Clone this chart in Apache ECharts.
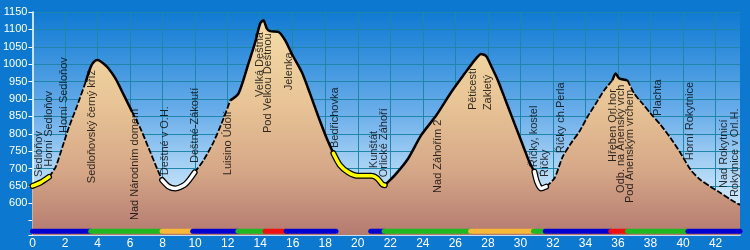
<!DOCTYPE html>
<html>
<head>
<meta charset="utf-8">
<script src="https://cdn.jsdelivr.net/npm/echarts@6/dist/echarts.min.js"></script>
<style>
html,body{margin:0;padding:0;background:#0c78d0;}
#c{width:750px;height:250px;}
</style>
</head>
<body>
<div id="c"></div>
<script>
// ---- data ----
const profileKm = [0,0.5,1.02,1.43,1.84,2.25,2.76,3.27,3.58,3.8,4.0,4.2,4.6,5.1,5.62,6.13,6.64,7.15,7.66,7.97,8.38,8.79,9.4,9.97,10.52,11.14,11.75,12.16,12.67,13.28,13.7,14.0,14.2,14.41,14.61,15.12,15.53,15.94,16.55,17.06,17.58,18.09,18.5,18.9,19.42,20.03,20.85,21.2,21.5,21.66,22.28,23.1,23.9,24.83,25.75,26.57,27.18,27.59,27.9,28.2,28.61,29.12,29.63,30.15,30.55,30.86,31.02,31.27,31.58,32.09,32.6,33.1,33.62,34.13,34.64,35.15,35.66,35.86,36.07,36.58,36.99,37.5,38.01,38.63,39.24,39.85,40.47,41.08,41.69,42.3,42.92,43.5];
const profileElev = [650,660,676,705,762,820,882,949,992,1008,1012,1008,992,959,911,863,815,758,700,667,648,643,655,689,724,777,844,896,916,1002,1064,1117,1126,1102,1095,1093,1069,1030,978,916,849,787,744,710,689,679,679,672,655,652,681,729,796,853,920,973,1011,1029,1023,995,954,892,830,767,719,691,662,643,648,672,734,772,806,849,887,925,954,973,959,954,916,887,858,825,787,744,696,667,648,630,611,595];

const placeNames = ["Sedloňov","Horní Sedloňov","Horní Sedloňov","Sedloňovský černý kříž","Nad Národním domem","Deštné v O.H.","Deštné-Zákoutí","Luisino Údolí","Velká Deštná","Pod Velkou Deštnou","Jelenka","Bedřichovka","Kunštát","Orlické Záhoří","Nad Záhořím 2","Pěticestí","Zakletý","Říčky, kostel","Říčky","Říčky ch.Perla","Hřeben Orl.hor","Odb. na Anenský vrch","Pod Anenským vrchem","Plachta","Horní Rokytnice","Nad Rokytnicí","Rokytnice v Orl.H."];
const placeKm = [0.41,1.02,1.94,3.68,6.32,8.14,9.98,12.02,13.98,14.47,15.76,18.58,20.97,21.64,24.95,27.1,28.02,30.84,31.51,32.5,35.68,36.17,36.73,38.44,40.4,42.49,43.16];
const placeElev = [676,705,802,658,552,681,716,681,906,802,925,759,701,675,630,868,868,704,676,744,719,630,601,851,724,644,618];

const surfStart = [0,3.58,7.97,9.85,12.63,14.3,15.6,20.8,21.62,26.94,30.8,31.53,35.56,36.58,40.3];
const surfEnd   = [3.58,7.97,9.85,12.63,14.3,15.6,18.66,21.62,26.94,30.8,31.53,35.56,36.58,40.3,43.5];
const surfColor = ["#0000d0","#20b820","#f8b838","#0000d0","#20b820","#f01010","#0000d0","#0000d0","#20b820","#f8b838","#20b820","#0000d0","#f01010","#20b820","#0000d0"];

const yellowRanges = [[0,1.02],[18.5,21.66]];
const whiteRanges  = [[7.97,9.97],[30.86,31.58]];
const solidRanges  = [[3.27,6.13],[12.16,18.5],[21.66,30.86],[35.66,36.58]];
const dashedRanges = [[1.02,3.27],[6.13,7.97],[9.97,12.16],[31.58,35.66],[36.58,43.5]];

// ---- build ----
const FONT = "Liberation Sans, Arial, sans-serif";
const SMOOTH = 0.25;
const profile = profileKm.map((k,i)=>[k,profileElev[i]]);
function slice(a,b){ return profile.filter(p=>p[0]>=a-1e-9 && p[0]<=b+1e-9); }

const series = [];
series.push({
  type:'line', data: profile, symbol:'none', z:2, smooth:SMOOTH,
  lineStyle:{width:0},
  areaStyle:{ origin:'start', opacity:1,
    color: new echarts.graphic.LinearGradient(0,15,0,235,[
      {offset:0,color:'#f6dea8'},
      {offset:0.4,color:'#e8c496'},
      {offset:0.7,color:'#d6a888'},
      {offset:1,color:'#b47a70'}],true)
  }
});
solidRanges.forEach(r=>series.push({type:'line',data:slice(r[0],r[1]),symbol:'none',z:3,smooth:SMOOTH,
  lineStyle:{color:'#000',width:2.5}}));
dashedRanges.forEach(r=>series.push({type:'line',data:slice(r[0],r[1]),symbol:'none',z:3,smooth:SMOOTH,
  lineStyle:{color:'#000',width:1.8,type:[6,2]}}));
function overlay(ranges,color){
  ranges.forEach(r=>{
    series.push({type:'line',data:slice(r[0],r[1]),symbol:'none',z:4,smooth:SMOOTH,
      lineStyle:{color:'#000',width:6,cap:'round',join:'round'}});
    series.push({type:'line',data:slice(r[0],r[1]),symbol:'none',z:5,smooth:SMOOTH,
      lineStyle:{color:color,width:3.5,cap:'round',join:'round'}});
  });
}
overlay(yellowRanges,'#ffff00');
overlay(whiteRanges,'#ffffff');

const BAR_LEVEL = 520;
surfStart.forEach((s,i)=>series.push({type:'line',symbol:'none',z:6,
  data:[[s,BAR_LEVEL],[surfEnd[i],BAR_LEVEL]],
  lineStyle:{color:surfColor[i],width:5,cap:'round'}}));

series.push({
  type:'scatter', z:10, symbolSize:1, itemStyle:{color:'rgba(0,0,0,0)'},
  data: placeNames.map((n,i)=>[placeKm[i],placeElev[i],n]),
  label:{show:true, position:'inside', formatter:p=>p.data[2], rotate:90,
    align:'left', verticalAlign:'middle', color:'#000', fontSize:11, fontFamily:FONT},
  emphasis:{disabled:true}, silent:true
});

const chart = echarts.init(document.getElementById('c'),null,{renderer:'canvas'});
chart.setOption({
  animation:false,
  backgroundColor:'#0c78d0',
  grid:{left:30,right:10,top:12,bottom:15,show:true,borderWidth:0,
    backgroundColor: new echarts.graphic.LinearGradient(0,0,0,1,[
      {offset:0,color:'#0f7ad2'},
      {offset:0.45,color:'#6aaeea'},
      {offset:0.8,color:'#c4e2f8'},
      {offset:1,color:'#e6f3fd'}])},
  xAxis:{type:'value',min:0,max:43.5,interval:2,
    axisLine:{show:true,lineStyle:{color:'#ffffff',width:1.5}},
    axisTick:{show:false},
    axisLabel:{color:'#ffffff',fontSize:12,fontFamily:FONT,margin:3,
      formatter:v=>(v%2===0 && v<=42)?String(v):''},
    splitLine:{show:true,showMaxLine:false,lineStyle:{color:'#1f86aa',width:1}}
  },
  yAxis:{type:'value',min:509,max:1150,minInterval:50,maxInterval:50,
    axisLine:{show:true,lineStyle:{color:'#ffffff',width:1.5}},
    axisTick:{show:true,length:4,lineStyle:{color:'#ffffff'}},
    axisLabel:{color:'#ffffff',fontSize:11,fontFamily:FONT,margin:5,
      formatter:v=>(v>=600 && v%50===0)?String(v):''},
    splitLine:{show:true,showMinLine:false,lineStyle:{color:'#1f86aa',width:1}}
  },
  series: series
});
</script>
</body>
</html>
